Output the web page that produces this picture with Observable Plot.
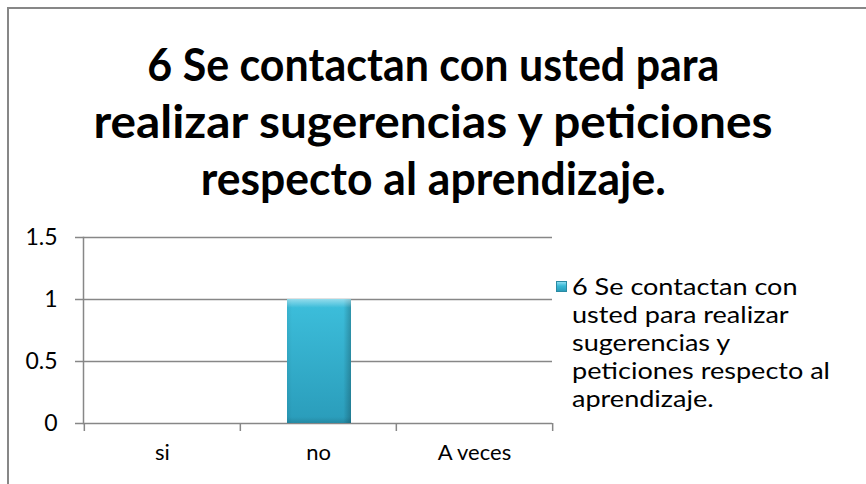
<!DOCTYPE html>
<html>
<head>
<meta charset="utf-8">
<script src="https://cdn.jsdelivr.net/npm/d3@7"></script>
<script src="https://cdn.jsdelivr.net/npm/@observablehq/plot@0.6"></script>
<style>
  html, body { margin: 0; padding: 0; background: #fff; }
  #wrap { position: relative; width: 866px; height: 484px; overflow: hidden; background: #fff; font-family: Lato, "Open Sans", sans-serif; color: #000; }
  #border { position: absolute; left: 7px; top: 7px; width: 1000px; height: 1000px; border-left: 2px solid #878787; border-top: 2px solid #878787; box-sizing: border-box; }
  #title { position: absolute; left: 0; top: 35px; width: 866px; text-align: center; font-weight: 700; font-size: 46px; line-height: 57px; white-space: nowrap; }
  #title div span { display: inline-block; transform-origin: 50% 50%; }
  #chart { position: absolute; left: 0; top: 220px; }
  #legend { position: absolute; left: 555px; top: 272px; font-size: 23px; line-height: 28px; white-space: nowrap; }
  #legend .sw { position: absolute; left: 1px; top: 9px; width: 11px; height: 11px; box-sizing: border-box; border: 1px solid #2a8aa3; background: linear-gradient(#8adcf0, #38b8d5 45%, #2a9dba); }
  #legend .txt { position: absolute; left: 17px; top: 0; transform-origin: 0 0; }
  #legend .txt div { width: max-content; }
</style>
</head>
<body>
<div id="wrap">
  <div id="border"></div>
  <div id="title"></div>
  <div id="chart"></div>
  <div id="legend"><div class="sw"></div><div class="txt"></div></div>
</div>
<script>
// ---- data ----
const titleLines = ["6 Se contactan con usted para", "realizar sugerencias y peticiones", "respecto al aprendizaje."];
const titleLineWidths = [572, 679, 465];
const seriesName = "6 Se contactan con usted para realizar sugerencias y peticiones respecto al aprendizaje.";
const legendLines = ["6 Se contactan con", "usted para realizar", "sugerencias y", "peticiones respecto al", "aprendizaje."];
const legendWidestWidth = 258;
const categories = ["si", "no", "A veces"];
const values = [0, 1, 0];
const yTicks = [0, 0.5, 1, 1.5];

// ---- title & legend ----
const titleEl = document.getElementById("title");
titleLines.forEach((l, i) => {
  const d = document.createElement("div");
  const s = document.createElement("span");
  s.textContent = l;
  d.appendChild(s);
  titleEl.appendChild(d);
  const w = s.getBoundingClientRect().width;
  if (w > 0) s.style.transform = `scaleX(${titleLineWidths[i] / w})`;
});
const legTxt = document.querySelector("#legend .txt");
let widest = 0;
legendLines.forEach(l => {
  const d = document.createElement("div");
  d.textContent = l;
  legTxt.appendChild(d);
  widest = Math.max(widest, d.getBoundingClientRect().width);
});
if (widest > 0) legTxt.style.transform = `scaleX(${legendWidestWidth / widest})`;

// ---- chart ----
const data = categories.map((c, i) => ({category: c, value: values[i]}));
const W = 866, H = 264;
const mL = 83, mR = 866 - 552, mT = 17, mB = H - 203;
const step = (W - mL - mR) / categories.length;
const axisGray = "#878787";

const gradient = () => {
  const defs = d3.create("svg:defs");
  const g = defs.append("linearGradient").attr("id", "barGrad").attr("x1", 0).attr("y1", 0).attr("x2", 0).attr("y2", 1);
  g.append("stop").attr("offset", "0%").attr("stop-color", "#3dbfdc");
  g.append("stop").attr("offset", "100%").attr("stop-color", "#2a9cba");
  const h = defs.append("linearGradient").attr("id", "barEdge").attr("x1", 0).attr("y1", 0).attr("x2", 1).attr("y2", 0);
  h.append("stop").attr("offset", "0%").attr("stop-color", "#000").attr("stop-opacity", 0.06);
  h.append("stop").attr("offset", "8%").attr("stop-color", "#000").attr("stop-opacity", 0.0);
  h.append("stop").attr("offset", "88%").attr("stop-color", "#000").attr("stop-opacity", 0.0);
  h.append("stop").attr("offset", "100%").attr("stop-color", "#000").attr("stop-opacity", 0.22);
  const t = defs.append("linearGradient").attr("id", "barTop").attr("x1", 0).attr("y1", 0).attr("x2", 0).attr("y2", 1);
  t.append("stop").attr("offset", "0%").attr("stop-color", "#fff").attr("stop-opacity", 0.45);
  t.append("stop").attr("offset", "7%").attr("stop-color", "#fff").attr("stop-opacity", 0.0);
  t.append("stop").attr("offset", "95%").attr("stop-color", "#000").attr("stop-opacity", 0.0);
  t.append("stop").attr("offset", "100%").attr("stop-color", "#000").attr("stop-opacity", 0.12);
  return defs.node();
};

const barOpts = { x: "category", y: "value", insetLeft: 47, insetRight: 45 };
const chart = Plot.plot({
  width: W,
  height: H,
  marginLeft: mL,
  marginRight: mR,
  marginTop: mT,
  marginBottom: mB,
  style: { fontFamily: "Lato, 'Open Sans', sans-serif", background: "transparent", overflow: "visible" },
  x: { domain: categories, padding: 0, axis: null, label: null },
  y: { domain: [0, 1.5], axis: null, label: null },
  marks: [
    gradient,
    Plot.ruleY(yTicks, { stroke: axisGray, strokeWidth: 1.5 }),
    Plot.barY(data, { ...barOpts, fill: "url(#barGrad)" }),
    Plot.barY(data, { ...barOpts, fill: "url(#barEdge)" }),
    Plot.barY(data, { ...barOpts, fill: "url(#barTop)" }),
    Plot.frame({ anchor: "left", stroke: axisGray, strokeWidth: 1.5 }),
    Plot.axisY({ ticks: yTicks, label: null, tickSize: 8, tickPadding: 18, tickFormat: d => String(d), fontSize: 23, stroke: axisGray, strokeWidth: 1.5, fill: "#000" }),
    Plot.ruleX(categories, { x: d => d, dx: -step / 2, y1: 0, y2: 0, insetBottom: -8, stroke: axisGray, strokeWidth: 1.5 }),
    Plot.ruleX(categories.slice(-1), { x: d => d, dx: step / 2, y1: 0, y2: 0, insetBottom: -8, stroke: axisGray, strokeWidth: 1.5 }),
    Plot.axisX({ label: null, tickSize: 0, tickPadding: 21, fontSize: 22, fill: "#000" })
  ]
});
document.getElementById("chart").appendChild(chart);
</script>
</body>
</html>
